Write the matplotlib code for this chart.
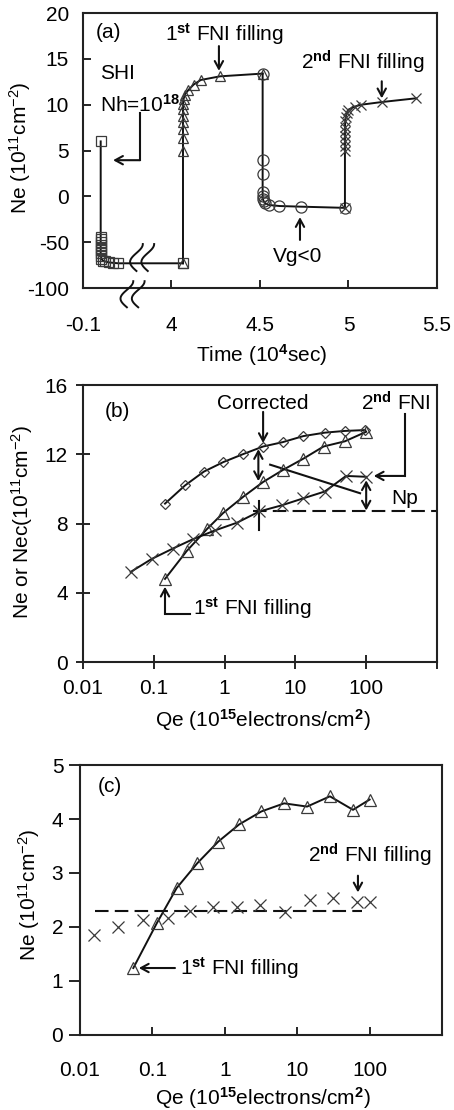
import numpy as np
import matplotlib
matplotlib.use('Agg')
import matplotlib.pyplot as plt
from matplotlib.ticker import FixedLocator, FixedFormatter, NullLocator

plt.rcParams['font.family'] = ['Liberation Sans', 'DejaVu Sans']
plt.rcParams['mathtext.fontset'] = 'custom'
plt.rcParams['mathtext.rm'] = 'Liberation Sans'
plt.rcParams['mathtext.it'] = 'Liberation Sans:italic'
plt.rcParams['mathtext.bf'] = 'Liberation Sans:bold'
plt.rcParams['mathtext.default'] = 'regular'

# ---------------- data ----------------
# Panel (a): time (1e4 s) vs Ne (1e11 cm^-2)
sq_t = [0.0, 0.0, 0.0, 0.0, 0.0, 0.0, 0.0, 0.0, 0.0, 0.004, 0.012, 0.025, 0.045, 0.07, 0.1, 4.065]
sq_ne = [6.0, -44, -47, -50, -53, -56, -59, -62, -65, -68, -70, -71, -72, -72.5, -73, -73]
tri_t = [4.065, 4.065, 4.065, 4.065, 4.065, 4.065, 4.065, 4.065, 4.068, 4.075, 4.095, 4.125, 4.165, 4.274, 4.515]
tri_ne = [-73, 4.9, 6.4, 7.3, 8.1, 8.8, 9.5, 10.1, 10.6, 11.1, 11.6, 12.2, 12.7, 13.1, 13.4]
cir_t = [4.515, 4.515, 4.515, 4.515, 4.515, 4.516, 4.52, 4.53, 4.55, 4.61, 4.73, 4.98]
cir_ne = [13.4, 4.0, 2.4, 0.5, 0.0, -2.5, -5.0, -7.5, -9.4, -10.5, -11.2, -12.5]
crs_t = [4.98, 4.98, 4.98, 4.98, 4.98, 4.98, 4.98, 4.982, 4.985, 4.99, 4.998, 5.036, 5.07, 5.19, 5.38]
crs_ne = [-12.5, 4.9, 5.5, 6.0, 6.55, 7.1, 7.6, 8.2, 8.7, 9.1, 9.45, 9.8, 10.0, 10.3, 10.7]
a_xticks = [-0.1, 4, 4.5, 5, 5.5]
a_xticklabels = ['-0.1', '4', '4.5', '5', '5.5']
a_yticks = [-100, -50, 0, 5, 10, 15, 20]
a_yticklabels = ['-100', '-50', '0', '5', '10', '15', '20']

# Panel (b): Qe (1e15 electrons/cm2) vs Ne / Nec
b_qe_cor = [0.144, 0.276, 0.51, 0.96, 1.8, 3.5, 6.6, 12.9, 26, 50, 97]
b_ne_cor = [9.15, 10.2, 11.0, 11.55, 12.0, 12.45, 12.7, 13.05, 13.25, 13.35, 13.4]
b_qe_tri = [0.144, 0.29, 0.57, 0.95, 1.84, 3.5, 6.7, 13, 25, 50, 100]
b_ne_tri = [4.8, 6.4, 7.7, 8.6, 9.55, 10.4, 11.1, 11.75, 12.45, 12.75, 13.3]
b_qe_x = [0.047, 0.093, 0.185, 0.36, 0.73, 1.5, 3.1, 6.4, 12.8, 26, 52, 100]
b_ne_x = [5.2, 5.95, 6.55, 7.1, 7.6, 8.05, 8.7, 9.05, 9.45, 9.85, 10.75, 10.7]
b_level = 8.7

# Panel (c)
c_qe_tri = [0.0545, 0.115, 0.216, 0.416, 0.81, 1.58, 3.2, 6.6, 13.7, 28.3, 59, 100]
c_ne_tri = [1.24, 2.07, 2.72, 3.18, 3.58, 3.9, 4.14, 4.29, 4.23, 4.42, 4.17, 4.36]
c_qe_x = [0.0158, 0.034, 0.075, 0.166, 0.33, 0.69, 1.49, 3.1, 6.8, 15, 31.6, 67, 100]
c_ne_x = [1.85, 2.0, 2.13, 2.17, 2.3, 2.37, 2.37, 2.40, 2.27, 2.5, 2.53, 2.47, 2.46]
c_level = 2.3

log_ticks = [0.01, 0.1, 1, 10, 100, 1000]
log_labels = ['0.01', '0.1', '1', '10', '100', '']

# ---------------- style ----------------
FS = 15
LC = '#111111'
MC = '#3a3a3a'
LW = 1.4

fig = plt.figure(figsize=(4.54, 11.10), dpi=100)
axa = fig.add_axes([0.1828, 0.7405, 0.7797, 0.2477])
axb = fig.add_axes([0.1828, 0.4036, 0.7797, 0.2495])
axc = fig.add_axes([0.1762, 0.0676, 0.7974, 0.2432])

for ax in (axa, axb, axc):
    for s in ax.spines.values():
        s.set_linewidth(1.5)
        s.set_color('#222222')

def mk(ax, x, y, marker, ms):
    ax.plot(x, y, '-', color=LC, lw=LW, marker=marker, ms=ms, mfc='none',
            mec=MC, mew=0.9, clip_on=False, zorder=3)

arrow = dict(arrowstyle='->,head_length=0.55,head_width=0.3', lw=1.5, color=LC,
             shrinkA=0, shrinkB=0)
darrow = dict(arrowstyle='<->,head_length=0.55,head_width=0.3', lw=1.5, color=LC,
              shrinkA=0, shrinkB=0)

# ---------------- panel (a) ----------------
def t_fwd(t):
    t = np.asarray(t, dtype=float)
    return np.where(t <= 0.4, t, np.where(t >= 4.0, t - 3.6, 0.4 + (t - 0.4) * 1e-9))

def t_inv(u):
    u = np.asarray(u, dtype=float)
    return np.where(u <= 0.4, u, u + 3.6)

def y_fwd(v):
    v = np.asarray(v, dtype=float)
    return np.where(v >= 0, v, v / 10.0)

def y_inv(u):
    u = np.asarray(u, dtype=float)
    return np.where(u >= 0, u, u * 10.0)

axa.set_xscale('function', functions=(t_fwd, t_inv))
axa.set_yscale('function', functions=(y_fwd, y_inv))
axa.set_xlim(-0.1, 5.5)
axa.set_ylim(-100, 20)

mk(axa, sq_t, sq_ne, 's', 7)
mk(axa, tri_t, tri_ne, '^', 7.5)
mk(axa, cir_t, cir_ne, 'o', 8)
mk(axa, crs_t, crs_ne, 'x', 7.5)

axa.xaxis.set_major_locator(FixedLocator(a_xticks))
axa.xaxis.set_major_formatter(FixedFormatter(a_xticklabels))
axa.xaxis.set_minor_locator(NullLocator())
axa.yaxis.set_major_locator(FixedLocator(a_yticks))
axa.yaxis.set_major_formatter(FixedFormatter(a_yticklabels))
axa.yaxis.set_minor_locator(NullLocator())
axa.tick_params(axis='x', direction='in', length=6, width=1.2, pad=20, labelsize=FS)
axa.tick_params(axis='y', direction='in', length=6, width=1.2, pad=10, labelsize=FS)
axa.set_xlabel('Time (10$^{\\mathbf{4}}$sec)', fontsize=FS)
axa.xaxis.set_label_coords(0.506, -0.196)
axa.set_ylabel('Ne (10$^{11}$cm$^{-2}$)', fontsize=FS)
axa.yaxis.set_label_coords(-0.141, 0.51)

T = axa.transAxes
axa.text(0.035, 0.93, '(a)', transform=T, fontsize=FS, ha='left', va='center')
axa.text(0.048, 0.782, 'SHI', transform=T, fontsize=FS, ha='left', va='center')
axa.text(0.048, 0.665, 'Nh=10$^{\\mathbf{18}}$', transform=T, fontsize=FS, ha='left', va='center')
axa.plot([0.161, 0.161], [0.636, 0.465], transform=T, color=LC, lw=1.5)
axa.annotate('', xy=(0.085, 0.465), xytext=(0.161, 0.465), xycoords=T, textcoords=T,
             arrowprops=arrow)
axa.text(0.40, 0.925, '1$^{\\mathbf{st}}$ FNI filling', transform=T, fontsize=FS,
         ha='center', va='center')
axa.annotate('', xy=(0.384, 0.79), xytext=(0.384, 0.88), xycoords=T, textcoords=T,
             arrowprops=arrow)
axa.text(0.79, 0.82, '2$^{\\mathbf{nd}}$ FNI filling', transform=T, fontsize=FS,
         ha='center', va='center')
axa.annotate('', xy=(0.844, 0.69), xytext=(0.844, 0.752), xycoords=T, textcoords=T,
             arrowprops=arrow)
axa.text(0.607, 0.113, 'Vg<0', transform=T, fontsize=FS, ha='center', va='center')
axa.annotate('', xy=(0.613, 0.258), xytext=(0.613, 0.175), xycoords=T, textcoords=T,
             arrowprops=arrow)

# break marks
s = np.linspace(0, 1, 40)
for xc, y0, y1 in [(0.160, 0.160, 0.062), (0.192, 0.160, 0.062),
                   (0.133, 0.025, -0.070), (0.165, 0.025, -0.070)]:
    xs = xc + 0.018 * np.cos(1.5 * np.pi * s) - 0.009
    ys = y0 + (y1 - y0) * s
    axa.plot(xs, ys, transform=T, color=LC, lw=1.4, clip_on=False, zorder=5)

# ---------------- panel (b) ----------------
axb.set_xscale('log')
axb.set_xlim(0.01, 1000)
axb.set_ylim(0, 16)
mk(axb, b_qe_cor, b_ne_cor, 'D', 5.5)
mk(axb, b_qe_tri, b_ne_tri, '^', 8.5)
mk(axb, b_qe_x, b_ne_x, 'x', 8)
axb.plot([2.52, 1000], [b_level, b_level], color=LC, lw=1.5, ls=(0, (6.5, 3)), zorder=2)
axb.plot([3.1, 3.1], [7.6, 9.3], color=LC, lw=1.5, zorder=2)

axb.xaxis.set_major_locator(FixedLocator(log_ticks))
axb.xaxis.set_major_formatter(FixedFormatter(log_labels))
axb.xaxis.set_minor_locator(NullLocator())
axb.set_yticks([0, 4, 8, 12, 16])
axb.tick_params(axis='x', direction='inout', length=10, width=1.2, pad=7, labelsize=FS)
axb.tick_params(axis='y', direction='inout', length=10, width=1.2, pad=6, labelsize=FS)
axb.set_xlabel('Qe (10$^{\\mathbf{15}}$electrons/cm$^{\\mathbf{2}}$)', fontsize=FS)
axb.xaxis.set_label_coords(0.508, -0.162)
axb.set_ylabel('Ne or Nec(10$^{11}$cm$^{-2}$)', fontsize=FS)
axb.yaxis.set_label_coords(-0.136, 0.505)

Tb = axb.transAxes
axb.text(0.096, 0.903, '(b)', transform=Tb, fontsize=FS, ha='center', va='center')
axb.text(0.508, 0.935, 'Corrected', transform=Tb, fontsize=FS, ha='center', va='center')
axb.annotate('', xy=(3.5, 12.65), xytext=(3.5, 14.45), arrowprops=arrow)
axb.text(0.884, 0.935, '2$^{\\mathbf{nd}}$ FNI', transform=Tb, fontsize=FS, ha='center', va='center')
axb.plot([353, 353], [14.3, 10.75], color=LC, lw=1.5)
axb.annotate('', xy=(128, 10.75), xytext=(353, 10.75), arrowprops=arrow)
axb.annotate('', xy=(3.0, 12.3), xytext=(3.0, 10.45), arrowprops=darrow)
axb.plot([4.4, 82], [11.4, 9.75], color=LC, lw=1.5)
axb.annotate('', xy=(100, 10.5), xytext=(100, 8.75), arrowprops=darrow)
axb.text(0.91, 0.592, 'Np', transform=Tb, fontsize=FS, ha='center', va='center')
axb.plot([0.32, 0.144], [2.8, 2.8], color=LC, lw=1.5)
axb.annotate('', xy=(0.144, 4.35), xytext=(0.144, 2.8), arrowprops=arrow)
axb.text(0.311, 0.195, '1$^{\\mathbf{st}}$ FNI filling', transform=Tb, fontsize=FS,
         ha='left', va='center')

# ---------------- panel (c) ----------------
axc.set_xscale('log')
axc.set_xlim(0.01, 1000)
axc.set_ylim(0, 5)
mk(axc, c_qe_tri, c_ne_tri, '^', 8.5)
axc.plot(c_qe_x, c_ne_x, ls='none', marker='x', ms=8, mec=MC, mew=0.9, zorder=3)
axc.plot([0.016, 78], [c_level, c_level], color=LC, lw=1.5, ls=(0, (6.5, 3)), zorder=2)

axc.xaxis.set_major_locator(FixedLocator(log_ticks))
axc.xaxis.set_major_formatter(FixedFormatter(log_labels))
axc.xaxis.set_minor_locator(NullLocator())
axc.set_yticks([0, 1, 2, 3, 4, 5])
axc.tick_params(axis='x', direction='in', length=6, width=1.2, pad=19, labelsize=FS)
axc.tick_params(axis='y', direction='out', length=8, width=1.2, pad=4, labelsize=FS)
axc.set_xlabel('Qe (10$^{\\mathbf{15}}$electrons/cm$^{\\mathbf{2}}$)', fontsize=FS)
axc.xaxis.set_label_coords(0.506, -0.187)
axc.set_ylabel('Ne (10$^{11}$cm$^{-2}$)', fontsize=FS)
axc.yaxis.set_label_coords(-0.105, 0.52)

Tc = axc.transAxes
axc.text(0.083, 0.92, '(c)', transform=Tc, fontsize=FS, ha='center', va='center')
axc.text(0.80, 0.667, '2$^{\\mathbf{nd}}$ FNI filling', transform=Tc, fontsize=FS,
         ha='center', va='center')
axc.annotate('', xy=(69, 2.64), xytext=(69, 2.95), arrowprops=arrow)
axc.annotate('', xy=(0.065, 1.24), xytext=(0.205, 1.24), arrowprops=arrow)
axc.text(0.24, 1.24, '1$^{\\mathbf{st}}$ FNI filling', fontsize=FS, ha='left', va='center')

fig.savefig('out.png', dpi=100)
